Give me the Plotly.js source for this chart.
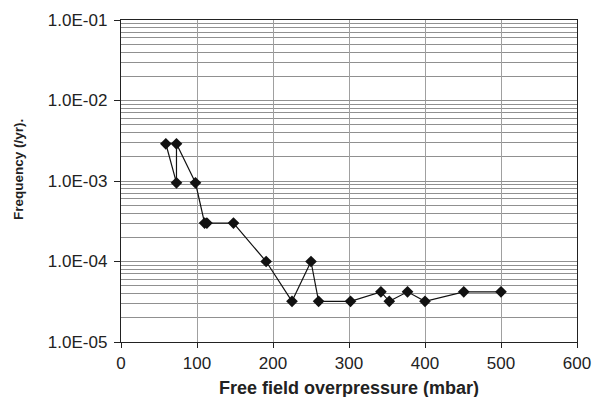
<!DOCTYPE html>
<html>
<head>
<meta charset="utf-8">
<script src="https://cdn.plot.ly/plotly-3.0.1.min.js"></script>
<style>html,body{margin:0;padding:0;background:#fff;}#chart{width:594px;height:397px;}</style>
</head>
<body>
<div id="chart"></div>
<script>
// Data
var pressure = [59, 73, 73, 98, 110, 113, 148, 191, 225, 250, 260, 302, 342, 353, 377, 400, 451, 500];
var frequency = [2.9e-3, 9.5e-4, 2.9e-3, 9.5e-4, 3.0e-4, 3.0e-4, 3.0e-4, 1.0e-4, 3.2e-5, 1.0e-4, 3.2e-5, 3.2e-5, 4.2e-5, 3.2e-5, 4.2e-5, 3.2e-5, 4.2e-5, 4.2e-5];
var yTickVals = [1e-5, 1e-4, 1e-3, 1e-2, 1e-1];
var yTickText = ["1.0E-05", "1.0E-04", "1.0E-03", "1.0E-02", "1.0E-01"];
var xTickVals = [0, 100, 200, 300, 400, 500, 600];

var minorVals = [];
for (var e = -5; e < -1; e++) {
  for (var d = 2; d <= 9; d++) minorVals.push(d * Math.pow(10, e));
}

var trace = {
  x: pressure, y: frequency, type: 'scatter', mode: 'lines+markers',
  line: {color: '#111', width: 1.2},
  marker: {symbol: 'diamond', size: 9, color: '#111'},
  hoverinfo: 'x+y'
};

var font = "Liberation Sans, Arial, Helvetica, sans-serif";
var layout = {
  width: 594, height: 397,
  margin: {l: 121, r: 17, t: 20, b: 55},
  paper_bgcolor: '#fff', plot_bgcolor: '#fff',
  showlegend: false,
  font: {family: font, color: '#222', size: 17},
  xaxis: {
    range: [0, 600], tickvals: xTickVals, ticktext: xTickVals.map(String),
    showgrid: true, gridcolor: '#a0a0a0', gridwidth: 1,
    showline: true, linecolor: '#222', linewidth: 1.2, mirror: true,
    ticks: 'outside', ticklen: 5, tickcolor: '#222',
    tickfont: {size: 17, family: font, color: '#222'},
    zeroline: false
  },
  yaxis: {
    type: 'log', range: [-5, -1],
    tickvals: yTickVals, ticktext: yTickText,
    showgrid: true, gridcolor: '#909090', gridwidth: 1,
    showline: true, linecolor: '#222', linewidth: 1.2, mirror: true,
    ticks: 'outside', ticklen: 6, tickcolor: '#222',
    ticklabelstandoff: 3,
    tickfont: {size: 17, family: font, color: '#222'},
    minor: {tickvals: minorVals, showgrid: true, gridcolor: '#909090', gridwidth: 1, ticks: ''},
    zeroline: false
  },
  annotations: [
    {text: '<b>Free field overpressure (mbar)</b>', xref: 'paper', yref: 'paper', x: 0.5, y: 0,
     xanchor: 'center', yanchor: 'middle', yshift: -46, showarrow: false,
     font: {size: 18, family: font, color: '#222'}},
    {text: '<b>Frequency (/yr).</b>', xref: 'paper', yref: 'paper', x: 0, y: 0.5,
     xanchor: 'center', yanchor: 'middle', xshift: -103, yshift: 11, textangle: -90, showarrow: false,
     font: {size: 13.5, family: font, color: '#222'}}
  ]
};

Plotly.newPlot('chart', [trace], layout, {displayModeBar: false, staticPlot: true});
</script>
</body>
</html>
